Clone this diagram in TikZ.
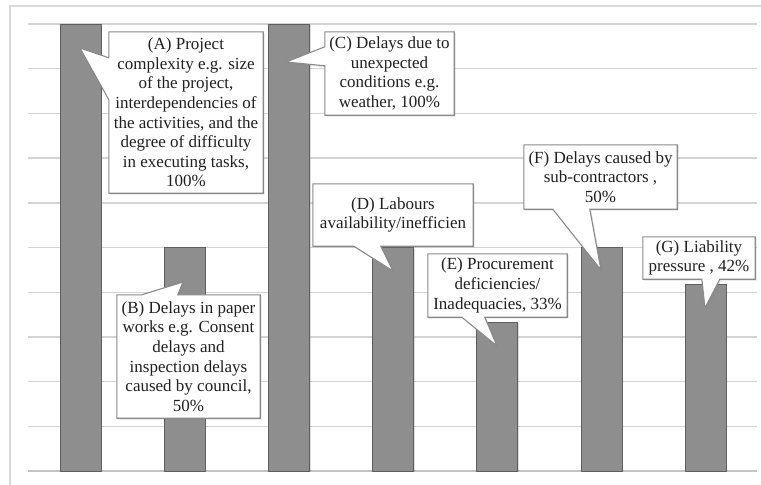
\documentclass[tikz,border=0pt]{standalone}
\usepackage{fontspec}
\setmainfont{Liberation Serif}
\newfontfamily\labelfont{Liberation Serif}
\usetikzlibrary{calc,shadows,backgrounds}

\definecolor{barfill}{HTML}{8E8E8E}
\definecolor{baredge}{HTML}{5E5E5E}
\definecolor{gridc}{HTML}{D4D4D4}
\definecolor{basec}{HTML}{C4C4C4}
\definecolor{framec}{HTML}{D9D9D9}
\definecolor{boxedge}{HTML}{8A8A8A}
\definecolor{txt}{HTML}{202020}

\begin{document}
\begin{tikzpicture}[x=1pt,y=-1pt,
  grid line/.style={draw=gridc, line width=1.4pt},
  base line/.style={draw=basec, line width=1.6pt},
  bar/.style={fill=barfill, draw=baredge, line width=0.9pt,
    drop shadow={shadow xshift=1.2pt, shadow yshift=-1.2pt, opacity=0.25}},
  callout/.style={fill=white, draw=boxedge, line width=1.1pt, line join=miter,
    drop shadow={shadow xshift=1.5pt, shadow yshift=-1.5pt, opacity=0.22}},
  label text/.style={align=center, inner sep=0pt, text=txt,
    font=\labelfont\fontsize{17}{19.6}\selectfont},
]
\path[use as bounding box] (0,0) rectangle (761,485);
\clip (0,0) rectangle (761,485);

% label texts (the callout outlines are built from their anchors)
\node[label text, minimum width=154pt, minimum height=161pt] (A) at (186,112.5)
  {(A) Project\\complexity e.g. size\\of the project,\\interdependencies of\\the activities, and the\\degree of difficulty\\in executing tasks,\\100\%};
\node[label text, minimum width=143pt, minimum height=123pt] (B) at (188.5,356.5)
  {(B) Delays in paper\\works e.g. Consent\\delays and\\inspection delays\\caused by council,\\50\%};
\node[label text, minimum width=129pt, minimum height=83pt] (C) at (389.5,73.5)
  {(C) Delays due to\\unexpected\\conditions e.g.\\weather, 100\%};
\node[label text, minimum width=160pt, minimum height=62pt] (D) at (393,215)
  {(D) Labours\\availability/inefficien};
\node[label text, minimum width=139pt, minimum height=63pt] (E) at (497.5,285.5)
  {(E) Procurement\\deficiencies/\\Inadequacies, 33\%};
\node[label text, minimum width=153pt, minimum height=64pt] (F) at (600.5,177)
  {(F) Delays caused by\\sub-contractors ,\\50\%};
\node[label text, minimum width=112pt, minimum height=42pt] (G) at (699,258)
  {(G) Liability\\pressure , 42\%};

% pointer tips on the bars
\coordinate (tipA) at (80,48);
\coordinate (tipB) at (183,282);
\coordinate (tipC) at (286,62);
\coordinate (tipD) at (393,271);
\coordinate (tipE) at (497,346);
\coordinate (tipF) at (601,270);
\coordinate (tipG) at (705,308);

\begin{scope}[on background layer]
  % chart frame
  \draw[draw=framec, line width=1.4pt] (10,6) rectangle (790,520);
  % horizontal grid, 10 % steps
  \foreach \k in {0,...,9}
    \draw[grid line] (28,{24+44.7*\k}) -- (757,{24+44.7*\k});
  \draw[base line] (28,471) -- (757,471);
  % bars: centre, value in percent
  \foreach \c/\v in {80.5/100, 184.7/50, 288.9/100, 393.1/50, 497.3/33.33, 601.5/50, 705.7/41.67}
    \draw[bar] ({\c-20.5},471) rectangle ({\c+20.5},{471-4.47*\v});

  % callouts pointing left
  \draw[callout] (A.north west) -- (A.north east) -- (A.south east) -- (A.south west)
    -- ($(A.north west)+(0,68)$) -- (tipA) -- ($(A.north west)+(0,26)$) -- cycle;
  \draw[callout] (C.north west) -- (C.north east) -- (C.south east) -- (C.south west)
    -- ($(C.north west)+(0,34)$) -- (tipC) -- ($(C.north west)+(0,15)$) -- cycle;
  % callout pointing up
  \draw[callout] (B.north west) -- ($(B.north west)+(25,0)$) -- (tipB)
    -- ($(B.north west)+(61,0)$) -- (B.north east) -- (B.south east) -- (B.south west) -- cycle;
  % callouts pointing down
  \draw[callout] (D.north west) -- (D.north east) -- (D.south east)
    -- ($(D.south west)+(68,0)$) -- (tipD) -- ($(D.south west)+(41,0)$) -- (D.south west) -- cycle;
  \draw[callout] (E.north west) -- (E.north east) -- (E.south east)
    -- ($(E.south west)+(57,0)$) -- (tipE) -- ($(E.south west)+(34,0)$) -- (E.south west) -- cycle;
  \draw[callout] (F.north west) -- (F.north east) -- (F.south east)
    -- ($(F.south west)+(66,0)$) -- (tipF) -- ($(F.south west)+(29,0)$) -- (F.south west) -- cycle;
  \draw[callout] (G.north west) -- (G.north east) -- (G.south east)
    -- ($(G.south west)+(77,0)$) -- (tipG) -- ($(G.south west)+(59,0)$) -- (G.south west) -- cycle;
\end{scope}
\end{tikzpicture}
\end{document}
